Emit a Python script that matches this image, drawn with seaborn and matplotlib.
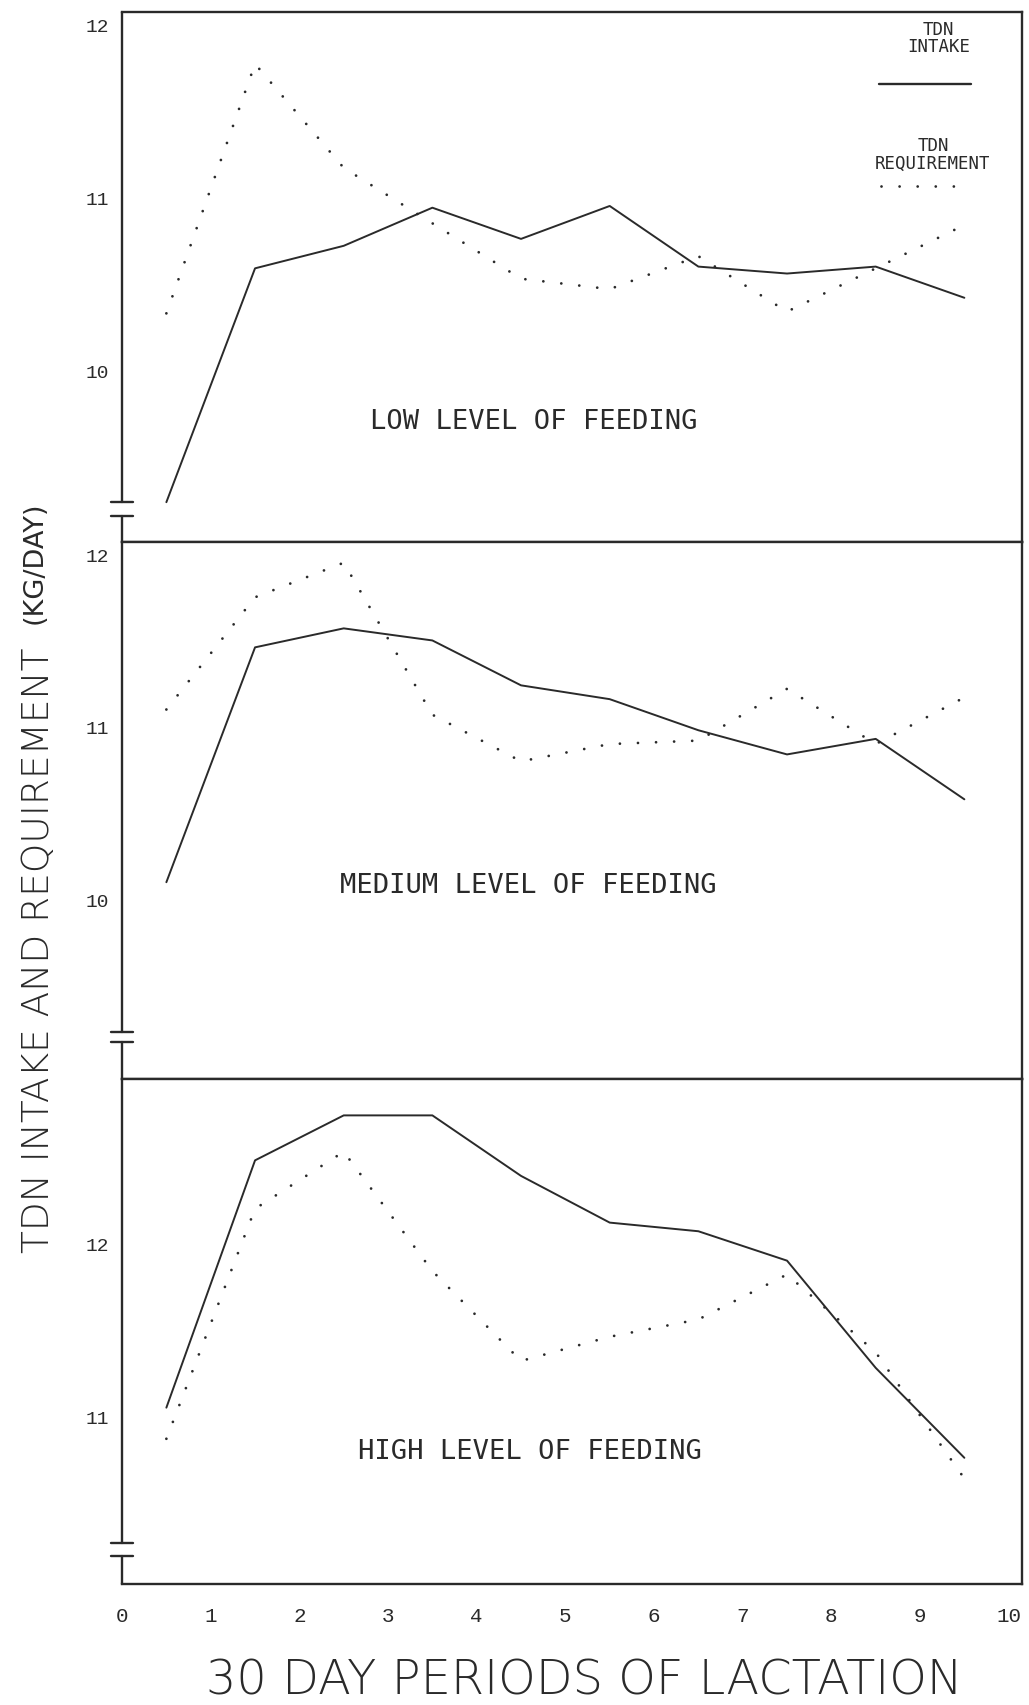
import numpy as np
import pandas as pd
import matplotlib
matplotlib.use("Agg")
import matplotlib.pyplot as plt
from matplotlib.lines import Line2D
import seaborn as sns

# ---------------- data ----------------
periods = [0.5, 1.5, 2.5, 3.5, 4.5, 5.5, 6.5, 7.5, 8.5, 9.5]

low_intake = [9.24, 10.59, 10.72, 10.94, 10.76, 10.95, 10.60, 10.56, 10.60, 10.42]
low_requirement = [10.33, 11.77, 11.17, 10.85, 10.53, 10.47, 10.66, 10.34, 10.59, 10.84]

medium_intake = [10.10, 11.46, 11.57, 11.50, 11.24, 11.16, 10.98, 10.84, 10.93, 10.58]
medium_requirement = [11.10, 11.75, 11.95, 11.07, 10.80, 10.90, 10.92, 11.22, 10.90, 11.17]

high_intake = [11.05, 12.48, 12.74, 12.74, 12.39, 12.12, 12.07, 11.90, 11.28, 10.76]
high_requirement = [10.87, 12.20, 12.53, 11.84, 11.32, 11.46, 11.56, 11.82, 11.37, 10.64]

panel_titles = ["LOW LEVEL OF FEEDING", "MEDIUM LEVEL OF FEEDING", "HIGH LEVEL OF FEEDING"]
y_ticks = [[10, 11, 12], [10, 11, 12], [11, 12]]
x_ticks = list(range(0, 11))
x_ticklabels = [str(v) for v in x_ticks]

# ---------------- style ----------------
sns.set_style("white")
plt.rcParams["font.family"] = ["DejaVu Sans"]
INK = "#2a2a2a"
DOT_DASH = (0.01, 6.5)

fig = plt.figure(figsize=(10.29, 17.06), dpi=100)

# axes boxes: [left, bottom, width, height] in figure fraction
boxes = [
    [0.1186, 0.6817, 0.8746, 0.3107],
    [0.1186, 0.3669, 0.8746, 0.3148],
    [0.1186, 0.0709, 0.8746, 0.2960],
]
ylims = [(9.01, 12.07), (8.96, 12.07), (10.03, 12.95)]
breaks = [(0.049, 0.0755), (0.069, 0.0875), (0.055, 0.081)]
title_pos = [(0.457, 0.228), (0.451, 0.361), (0.453, 0.263)]
series = [
    (low_intake, low_requirement),
    (medium_intake, medium_requirement),
    (high_intake, high_requirement),
]

mono = "Liberation Mono"
axes = []
for i, box in enumerate(boxes):
    ax = fig.add_axes(box)
    axes.append(ax)
    intake, req = series[i]
    df_in = pd.DataFrame({"period": periods, "tdn": intake})
    df_rq = pd.DataFrame({"period": periods, "tdn": req})
    sns.lineplot(data=df_in, x="period", y="tdn", ax=ax, color=INK,
                 linewidth=1.4, legend=False)
    sns.lineplot(data=df_rq, x="period", y="tdn", ax=ax, color=INK,
                 linewidth=2.0, legend=False)
    ax.lines[-1].set_dashes(DOT_DASH)
    ax.lines[-1].set_dash_capstyle("round")

    ax.set_xlim(0, 10.15)
    ax.set_ylim(*ylims[i])
    ax.set_xlabel("")
    ax.set_ylabel("")
    ax.set_yticks(y_ticks[i])
    ax.set_yticklabels([str(v) for v in y_ticks[i]], fontfamily=mono,
                       fontsize=14, color=INK)
    ax.set_xticks(x_ticks)
    if i == 2:
        ax.set_xticklabels(x_ticklabels, fontfamily=mono, fontsize=15, color=INK)
        ax.tick_params(axis="x", direction="in", length=10, width=1.0,
                       pad=16, colors=INK)
    else:
        ax.set_xticklabels([])
        ax.tick_params(axis="x", direction="in", length=8, width=1.0, colors=INK)
    ax.tick_params(axis="y", direction="in", length=8, width=1.0, pad=9,
                   colors=INK)

    for name in ["top", "right", "bottom"]:
        ax.spines[name].set_visible(True)
        ax.spines[name].set_color(INK)
        ax.spines[name].set_linewidth(1.7)
    ax.spines["left"].set_visible(False)

    # broken left axis
    lo, hi = breaks[i]
    kw = dict(transform=ax.transAxes, color=INK, lw=1.7, clip_on=False)
    ax.add_line(Line2D([0, 0], [hi, 1], **kw))
    ax.add_line(Line2D([0, 0], [0, lo], **kw))
    ax.add_line(Line2D([-0.012, 0.012], [hi, hi], **kw))
    ax.add_line(Line2D([-0.012, 0.012], [lo, lo], **kw))

    tx, ty = title_pos[i]
    ax.text(tx, ty, panel_titles[i], transform=ax.transAxes, ha="center",
            va="center", fontfamily="DejaVu Sans Mono", fontsize=19.5,
            color=INK)

# legend in top panel
ax0 = axes[0]
lt = dict(transform=ax0.transAxes, ha="center", va="center",
          fontfamily="DejaVu Sans Mono", fontsize=12.5, color=INK,
          linespacing=0.95)
ax0.text(0.907, 0.952, "TDN\nINTAKE", **lt)
ax0.add_line(Line2D([0.841, 0.943], [0.864, 0.864], transform=ax0.transAxes,
                    color=INK, lw=1.7))
ax0.text(0.901, 0.732, "TDN\nREQUIREMENT", **lt)
dots = Line2D([0.843, 0.934], [0.672, 0.672], transform=ax0.transAxes,
              color=INK, lw=2.0)
dots.set_dashes(DOT_DASH)
dots.set_dash_capstyle("round")
ax0.add_line(dots)

# axis titles
fig.text(0.037, 0.443, "TDN INTAKE AND REQUIREMENT", rotation=90,
         ha="center", va="center", fontsize=27, color=INK,
         fontfamily="DejaVu Sans", fontweight="light")
fig.text(0.034, 0.670, "(KG/DAY)", rotation=90, ha="center", va="center",
         fontsize=19.5, color=INK, fontfamily="DejaVu Sans")
fig.text(0.568, 0.0147, "30 DAY PERIODS OF LACTATION", ha="center",
         va="center", fontsize=34.5, color=INK, fontfamily="DejaVu Sans",
         fontweight="light")

fig.savefig("out.png", dpi=100, facecolor="white")
